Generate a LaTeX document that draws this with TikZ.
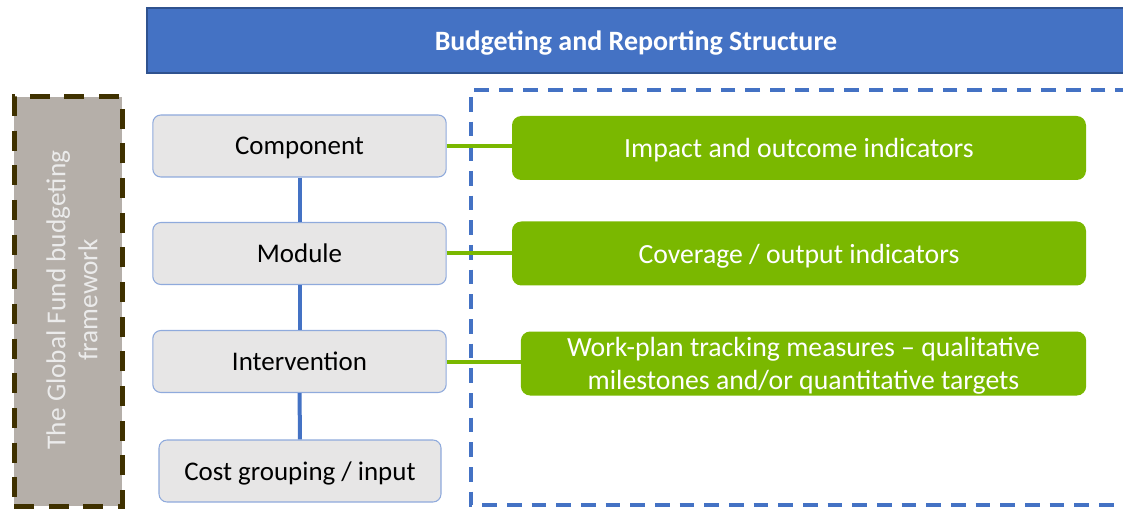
\documentclass[tikz,border=0pt]{standalone}
\usepackage{fontspec}
\setmainfont{Carlito}
\definecolor{hdrblue}{RGB}{68,114,196}
\definecolor{hdrline}{RGB}{47,82,143}
\definecolor{boxgrey}{RGB}{231,230,230}
\definecolor{boxline}{RGB}{143,170,220}
\definecolor{indgreen}{RGB}{122,184,0}
\definecolor{frmfill}{RGB}{181,175,169}
\definecolor{frmline}{RGB}{63,49,0}
\begin{document}
\begin{tikzpicture}[x=0.75pt, y=-0.75pt,
    level/.style={draw=boxline, line width=0.8pt, fill=boxgrey, rounded corners=6pt,
        minimum width=220pt, minimum height=46.5pt, text depth=0pt,
        font=\fontsize{20.2}{24}\selectfont},
    indicator/.style={fill=indgreen, rounded corners=7pt, text=white,
        minimum width=430.5pt, minimum height=48pt, align=center, text depth=0pt,
        font=\fontsize{20.8}{25}\selectfont},
    vlink/.style={hdrblue, line width=3pt},
    glink/.style={indgreen, line width=3pt}]
    \useasboundingbox (0,0) rectangle (1123,509);

    % Header bar
    \node[draw=hdrline, line width=0.8pt, fill=hdrblue, text=white, minimum width=733.5pt,
        minimum height=48.75pt, text depth=0pt, font=\fontsize{21}{25}\selectfont\bfseries]
        (header) at (636,40.5) {Budgeting and Reporting Structure};

    % Budgeting framework (left)
    \node[draw=frmline, line width=3.75pt, dash pattern=on 15pt off 11pt, fill=frmfill,
        minimum width=81pt, minimum height=306.75pt] (frame) at (68,301.5) {};
    \node[rotate=90, align=center, text=white!92!black, font=\fontsize{20.5}{24}\selectfont]
        (frametext) at (72,300) {The Global Fund budgeting\\framework};

    % Reporting area
    \draw[hdrblue, line width=3pt, dash pattern=on 11pt off 7.5pt]
        (1130,90) -- (471,90) -- (471,505) -- (1130,505);

    % Budget levels
    \node[level] (component) at (299.5,146) {Component};
    \node[level] (module) at (299.5,253.5) {Module};
    \node[level] (intervention) at (299.5,361.5) {Intervention};
    \node[level, minimum width=211.5pt] (cost) at (300,471) {Cost grouping / input};

    \draw[vlink] (component) -- (module);
    \draw[vlink] (module) -- (intervention);
    \draw[vlink] (intervention) -- (cost);

    % Indicators
    \node[indicator] (impact) at (799,148) {Impact and outcome indicators};
    \node[indicator] (coverage) at (799,253.5) {Coverage / output indicators};
    \node[indicator, minimum width=424pt] (workplan) at (803.5,363.5)
        {Work-plan tracking measures -- qualitative\\milestones and/or quantitative targets};

    \draw[glink] (component.east) -- (component.east -| impact.west);
    \draw[glink] (module.east) -- (module.east -| coverage.west);
    \draw[glink] (intervention.east) -- (intervention.east -| workplan.west);
\end{tikzpicture}
\end{document}
